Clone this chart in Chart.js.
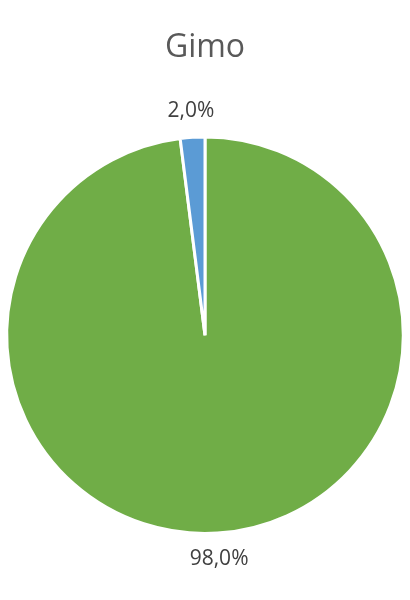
<!DOCTYPE html>
<html>
<head>
<meta charset="utf-8">
<script src="https://cdn.jsdelivr.net/npm/chart.js@4/dist/chart.umd.min.js"></script>
<style>
  html, body { margin: 0; padding: 0; background: #fff; }
  #wrap { width: 410px; height: 600px; }
</style>
</head>
<body>
<div id="wrap"><canvas id="pieChartID"></canvas></div>
<script>
'use strict';

const chartTitle = 'Gimo';
const labels = ['Ja', 'Nej'];
const shares = [98.0, 2.0];
const colors = ['#70AD47', '#5B9BD5'];

// draws the percentage labels just outside each slice
const outsideLabels = {
  id: 'outsideLabels',
  afterDatasetsDraw(chart) {
    const ctx = chart.ctx;
    const meta = chart.getDatasetMeta(0);
    const total = shares.reduce((a, b) => a + b, 0);
    ctx.save();
    ctx.font = '21px "Open Sans", sans-serif';
    ctx.fillStyle = '#404040';
    ctx.textAlign = 'center';
    ctx.textBaseline = 'middle';
    meta.data.forEach((arc, i) => {
      const mid = (arc.startAngle + arc.endAngle) / 2;
      const r = arc.outerRadius + 26;
      const x = arc.x + Math.cos(mid) * r;
      const y = arc.y + Math.sin(mid) * r;
      const txt = (shares[i] / total * 100).toFixed(1).replace('.', ',') + '%';
      ctx.fillText(txt, x, y);
    });
    ctx.restore();
  }
};

const data = {
  labels: labels,
  datasets: [{
    data: shares,
    backgroundColor: colors,
    borderColor: '#ffffff',
    borderWidth: 3
  }]
};

const config = {
  type: 'pie',
  data: data,
  options: {
    responsive: true,
    maintainAspectRatio: false,
    animation: false,
    layout: { padding: { left: 5, right: 5, top: 0, bottom: 65 } },
    plugins: {
      legend: { display: false },
      tooltip: { enabled: false },
      title: {
        display: true,
        text: chartTitle,
        color: '#595959',
        font: { family: '"Open Sans", sans-serif', size: 32, weight: 'normal' },
        padding: { top: 29, bottom: 68 }
      }
    }
  },
  plugins: [outsideLabels]
};

const pieChart = new Chart(document.getElementById('pieChartID'), config);
</script>
</body>
</html>
